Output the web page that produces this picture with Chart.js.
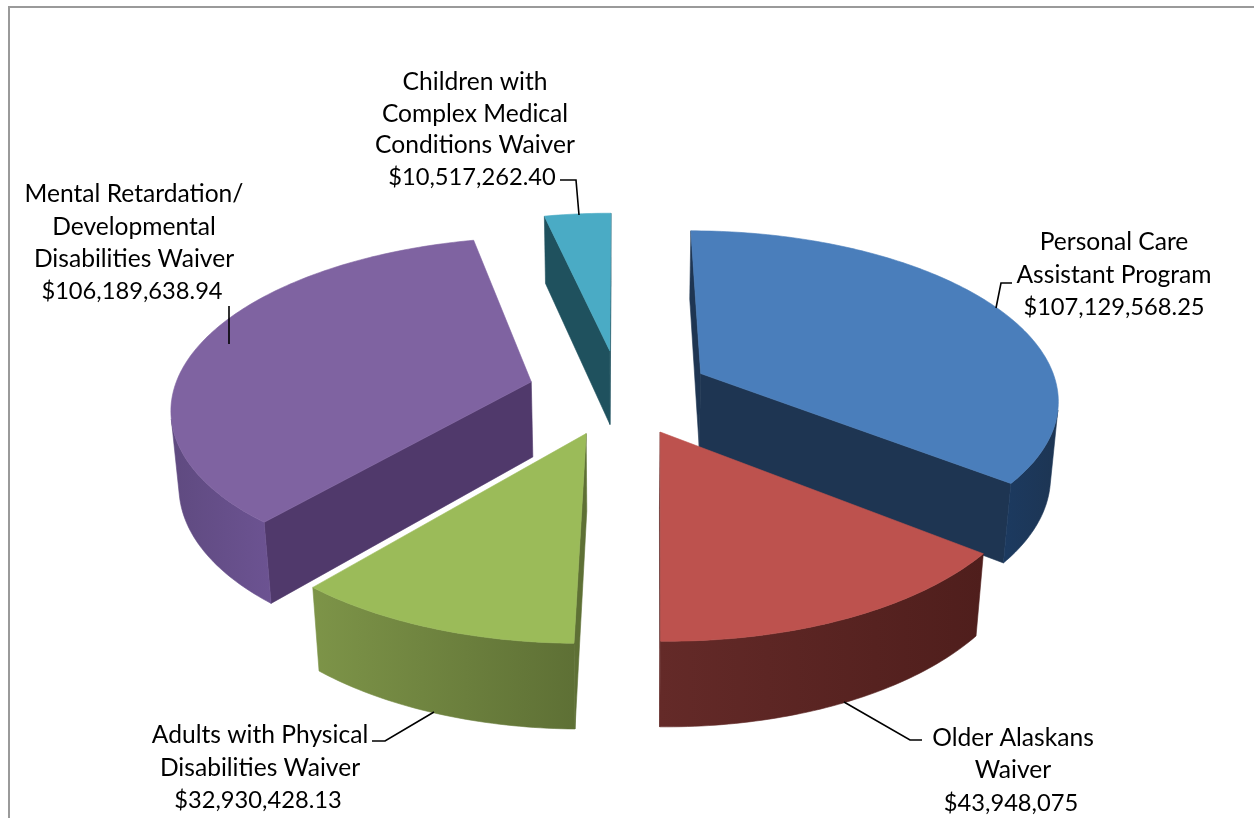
<!DOCTYPE html>
<html><head><meta charset="utf-8">
<style>html,body{margin:0;padding:0;background:#fff;overflow:hidden}canvas{display:block}</style>
<script src="https://cdn.jsdelivr.net/npm/chart.js@4"></script></head>
<body><canvas id="c" width="1254" height="818"></canvas>
<script>
const categories = ["Personal Care Assistant Program","Older Alaskans Waiver","Adults with Physical Disabilities Waiver","Mental Retardation/ Developmental Disabilities Waiver","Children with Complex Medical Conditions Waiver"];
const values = [107129568.25, 43948075, 32930428.13, 106189638.94, 10517262.40];
const valueLabels = ["$107,129,568.25","$43,948,075","$32,930,428.13","$106,189,638.94","$10,517,262.40"];
const nameLines = [
  ["Personal Care","Assistant Program"],
  ["Older Alaskans","Waiver"],
  ["Adults with Physical","Disabilities Waiver"],
  ["Mental Retardation/","Developmental","Disabilities Waiver"],
  ["Children with","Complex Medical","Conditions Waiver"]
];
const explodePercent = [25.6,25.6,25.6,25.6,25.6];
const topColors = ["#4a7ebb","#bd524e","#9bbb59","#7f63a1","#4aabc5"];
const faceColors = ["#1e3552","#5a2421","#5e7035","#50396b","#1f515e"];
const wallColors = [["#1c3a60","#1d3553"],["#642a28","#4f1e1c"],["#7d9448","#5e7035"],["#5f4a80","#6c5392"],["#1f515e","#1f515e"]];

// label layout: centre x, value-line centre x, line y's, leader polyline
const labelLayout = [
  {x:1114,vx:1114,y:[242,275,307],lead:[[1012,283],[1001,283],[996,308]]},
  {x:1013,vx:1011,y:[738,770,803],lead:[[844,702],[910,740],[922,740]]},
  {x:260,vx:258,y:[735,768,800],lead:[[434,712],[385,741],[372,741]]},
  {x:134,vx:132,y:[194,227,259,291],lead:[[229,306],[229,344]]},
  {x:475,vx:472,y:[82,114,145,177],lead:[[560,180],[576,180],[579,215]]}
];
// camera
const CX=619.5, CY=392, A=358, SIN_T=0.468, COS_T=0.884, PERSP=0.14, DEPTH=0.243;
function project(u,v,z){
  const w = 1 - PERSP*v - (PERSP*SIN_T/COS_T)*z;
  return [CX + A*u/w, CY + A*(v*SIN_T - z*COS_T)/w];
}
function area(p){let s=0;for(let i=0;i<p.length;i++){const a=p[i],b=p[(i+1)%p.length];s+=a[0]*b[1]-b[0]*a[1];}return s/2;}
function poly(ctx,p,fill){ctx.beginPath();p.forEach((q,i)=>i?ctx.lineTo(q[0],q[1]):ctx.moveTo(q[0],q[1]));ctx.closePath();ctx.fillStyle=fill;ctx.fill();ctx.strokeStyle=fill;ctx.lineWidth=0.6;ctx.stroke();}

const pie3d = {
  id:'pie3d',
  beforeDatasetDraw(chart){
    const ctx=chart.ctx, meta=chart.getDatasetMeta(0);
    const order=meta.data.map((a,i)=>i).sort((i,j)=>{
      const m=k=>Math.sin((meta.data[k].startAngle+meta.data[k].endAngle)/2);
      return m(i)-m(j);
    });
    ctx.save();
    order.forEach(i=>{
      const arc=meta.data[i], s=arc.startAngle, e=arc.endAngle, mid=(s+e)/2;
      const off=explodePercent[i]/100;
      const ox=off*Math.cos(mid), oy=off*Math.sin(mid);
      const n=Math.max(8,Math.ceil((e-s)*60));
      const rim=[];
      for(let k=0;k<=n;k++){const t=s+(e-s)*k/n;rim.push([ox+Math.cos(t),oy+Math.sin(t)]);}
      const apex=[ox,oy];
      const side=(a,b,col)=>{
        const q=[project(a[0],a[1],0),project(b[0],b[1],0),project(b[0],b[1],-DEPTH),project(a[0],a[1],-DEPTH)];
        if(area(q)<0) poly(ctx,q,col);
      };
      side(apex,rim[0],faceColors[i]);
      side(rim[n],apex,faceColors[i]);
      // outer wall: visible run filled as one polygon with horizontal gradient
      const vis=[];
      for(let k=0;k<n;k++){
        const a=rim[k],b=rim[k+1];
        const q=[project(a[0],a[1],0),project(b[0],b[1],0),project(b[0],b[1],-DEPTH),project(a[0],a[1],-DEPTH)];
        if(area(q)<0) vis.push(k);
      }
      if(vis.length){
        const lo=vis[0],hi=vis[vis.length-1]+1,up=[],dn=[];
        for(let k=lo;k<=hi;k++){up.push(project(rim[k][0],rim[k][1],0));dn.unshift(project(rim[k][0],rim[k][1],-DEPTH));}
        const pts=up.concat(dn),xs=pts.map(p=>p[0]);
        const g=ctx.createLinearGradient(Math.min(...xs),0,Math.max(...xs),0);
        g.addColorStop(0,wallColors[i][0]);g.addColorStop(1,wallColors[i][1]);
        poly(ctx,pts,g);
      }
      const top=[project(apex[0],apex[1],0)].concat(rim.map(r=>project(r[0],r[1],0)));
      poly(ctx,top,topColors[i]);
    });
    ctx.restore();
    return false;
  },
  afterDraw(chart){
    const ctx=chart.ctx;
    ctx.save();
    // chart frame
    ctx.strokeStyle='#9a9a9a';ctx.lineWidth=2;
    ctx.beginPath();ctx.moveTo(9,818);ctx.lineTo(9,7);ctx.lineTo(1254,7);ctx.stroke();
    // leaders + labels
    ctx.strokeStyle='#000';ctx.lineWidth=1.6;
    labelLayout.forEach(l=>{ctx.beginPath();l.lead.forEach((p,i)=>i?ctx.lineTo(p[0],p[1]):ctx.moveTo(p[0],p[1]));ctx.stroke();});
    ctx.fillStyle='#000';ctx.textAlign='center';ctx.textBaseline='middle';
    labelLayout.forEach((l,i)=>{
      const names=nameLines[i];
      names.forEach((t,k)=>{ctx.font='24.6px Lato';ctx.fillText(t,l.x,l.y[k]);});
      ctx.font='23.7px Lato';ctx.fillText(valueLabels[i],l.vx,l.y[names.length]);
    });
    ctx.restore();
  }
};
new Chart(document.getElementById('c'),{
  type:'pie',
  data:{labels:categories,datasets:[{data:values,backgroundColor:topColors,borderWidth:0,offset:explodePercent}]},
  options:{responsive:false,animation:false,rotation:0,
    plugins:{legend:{display:false},tooltip:{enabled:false},title:{display:false}}},
  plugins:[pie3d,{id:'bg',beforeDraw(c){c.ctx.fillStyle='#fff';c.ctx.fillRect(0,0,c.width,c.height);}}]
});
</script></body></html>
